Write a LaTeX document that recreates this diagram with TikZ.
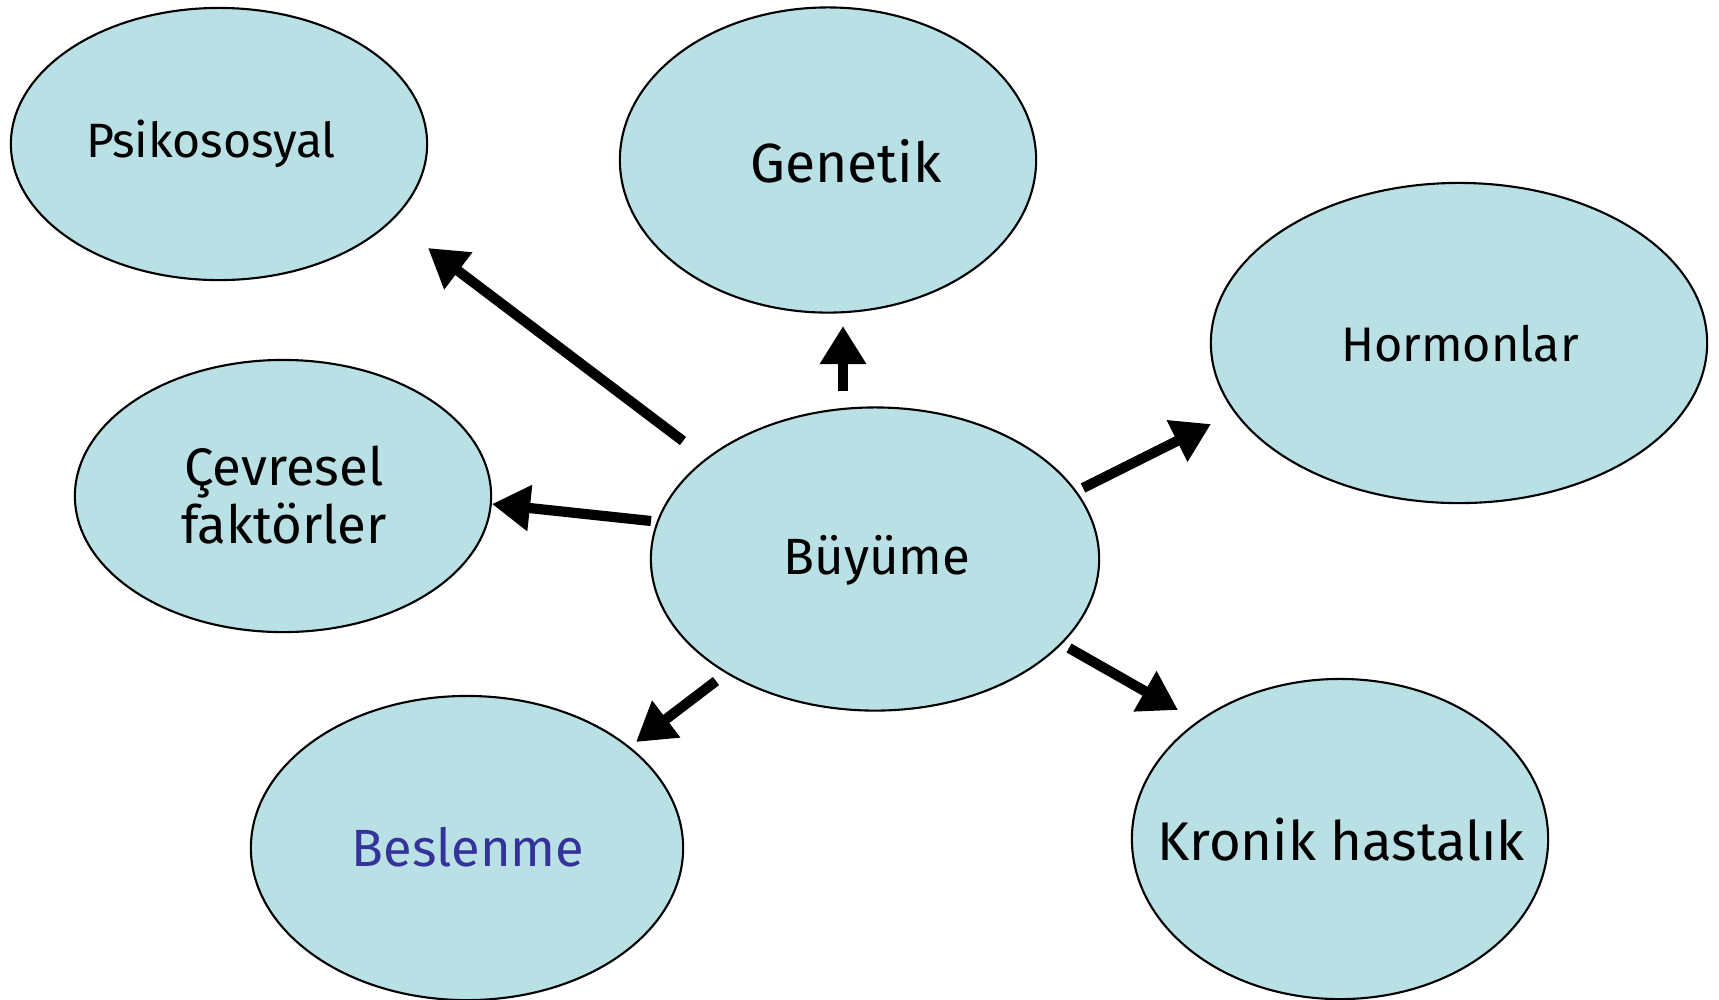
\documentclass[tikz,border=0pt]{standalone}
\usepackage{fontspec}
\setmainfont{Fira Sans}
\usetikzlibrary{shapes.geometric,arrows.meta}
\definecolor{bubble}{HTML}{B9E0E4}
\definecolor{blue1}{HTML}{333399}
\tikzset{
  bub/.style={ellipse, draw=black, line width=0.6pt, fill=bubble, inner sep=0pt},
  lbl/.style={font=\fontsize{15}{18}\selectfont, align=center, inner sep=0pt},
  thick arrow/.style={line width=2.9pt, -{Triangle[length=0.38cm,width=0.44cm]}}
}
\begin{document}
\begin{tikzpicture}[x=0.01cm,y=-0.01cm]
\useasboundingbox (0,0) rectangle (1719,999);
% ellipses
\node[bub, minimum width=4.16cm, minimum height=2.72cm] (psi) at (219,144) {};
\node[bub, minimum width=4.16cm, minimum height=3.05cm] (gen) at (828,160) {};
\node[bub, minimum width=4.96cm, minimum height=3.20cm] (hor) at (1459,343) {};
\node[bub, minimum width=4.16cm, minimum height=2.72cm] (cev) at (283,496) {};
\node[bub, minimum width=4.48cm, minimum height=3.03cm] (buy) at (875,559) {};
\node[bub, minimum width=4.32cm, minimum height=3.04cm] (bes) at (467,848) {};
\node[bub, minimum width=4.16cm, minimum height=3.20cm] (kro) at (1340,839) {};
% labels
\node[lbl, font=\fontsize{13.7}{16}\selectfont] (tpsi) at (211,144) {Psikososyal};
\node[lbl, font=\fontsize{15.7}{18}\selectfont] (tgen) at (846,161) {Genetik};
\node[lbl, font=\fontsize{13.8}{16}\selectfont] (thor) at (1460,344) {Hormonlar};
\node[lbl, font=\fontsize{15}{16.3}\selectfont] (tcev) at (284,495) {Çevresel\\faktörler};
\node[lbl, font=\fontsize{14.5}{17}\selectfont] (tbuy) at (877,560) {Büyüme};
\node[lbl, text=blue1, font=\fontsize{14.9}{17}\selectfont] (tbes) at (468,847) {Beslenme};
\node[lbl, font=\fontsize{15.5}{18}\selectfont] (tkro) at (1341,840) {Kronik hastalık};
% arrow end points
\coordinate (a1s) at (683,441); \coordinate (a1e) at (428,248);
\coordinate (a2s) at (843,391); \coordinate (a2e) at (843,326);
\coordinate (a3s) at (1083,488); \coordinate (a3e) at (1211,424);
\coordinate (a4s) at (651,521); \coordinate (a4e) at (492,504);
\coordinate (a5s) at (716,681); \coordinate (a5e) at (636,742);
\coordinate (a6s) at (1069,648); \coordinate (a6e) at (1178,710);
\draw[thick arrow] (a1s) -- (a1e);
\draw[thick arrow] (a2s) -- (a2e);
\draw[thick arrow] (a3s) -- (a3e);
\draw[thick arrow] (a4s) -- (a4e);
\draw[thick arrow] (a5s) -- (a5e);
\draw[thick arrow] (a6s) -- (a6e);
\end{tikzpicture}
\end{document}
